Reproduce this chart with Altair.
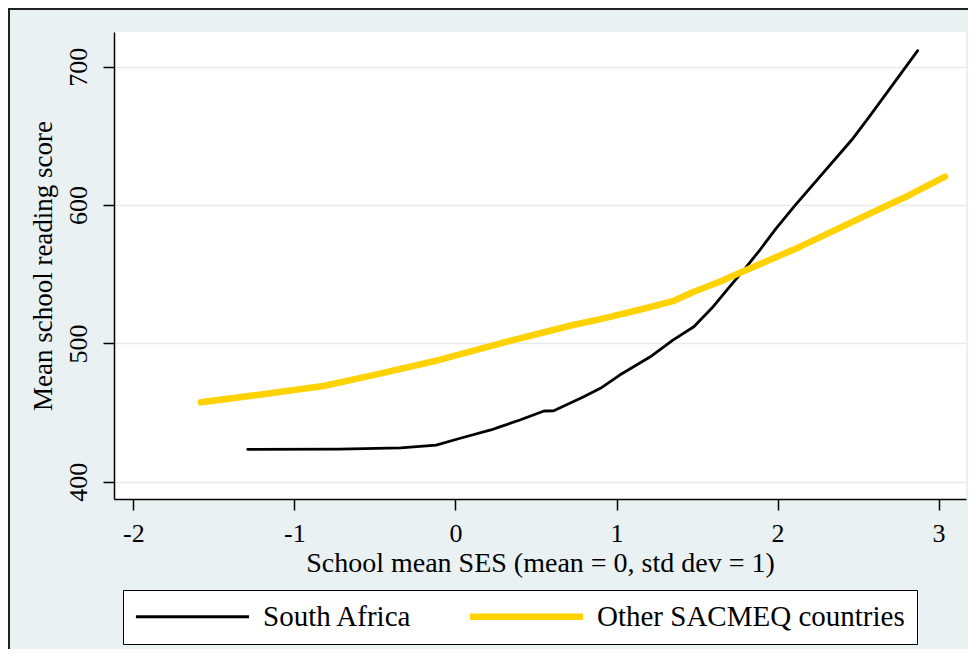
import altair as alt
import pandas as pd

# ---- data ----
series_names = ["South Africa", "Other SACMEQ countries"]

sa_ses = [-1.29, -0.72, -0.34, -0.12, 0.03, 0.22, 0.28, 0.40, 0.55, 0.61, 0.79, 0.90,
          1.02, 1.21, 1.35, 1.48, 1.60, 1.72, 1.79, 1.89, 1.99, 2.11, 2.46, 2.57, 2.87]
sa_score = [423.4, 423.6, 424.4, 426.5, 431.4, 437.4, 439.8, 444.6, 451.1, 451.3, 461.0, 467.5,
            477.1, 490.3, 502.4, 512.0, 526.5, 543.4, 553.0, 567.5, 583.0, 600.0, 647.0, 663.9, 711.6]

oth_ses = [-1.58, -1.23, -0.82, -0.51, -0.10, 0.32, 0.73, 0.90, 1.15, 1.35, 1.48, 1.64,
           1.77, 2.14, 2.51, 2.82, 3.04]
oth_score = [457.4, 462.7, 469.2, 477.1, 488.0, 501.2, 513.3, 517.5, 524.5, 530.5, 537.3, 544.6,
             551.2, 569.9, 590.4, 607.3, 620.5]

x_ticks = [-2, -1, 0, 1, 2, 3]
y_ticks = [400, 500, 600, 700]

df = pd.concat([
    pd.DataFrame({"ses": sa_ses, "score": sa_score, "series": series_names[0], "order": range(len(sa_ses))}),
    pd.DataFrame({"ses": oth_ses, "score": oth_score, "series": series_names[1], "order": range(len(oth_ses))}),
])

FONT = "Liberation Serif"
BG = "#E9F1F3"

lines = alt.Chart(df).mark_line(strokeCap="round", strokeJoin="round").encode(
    x=alt.X("ses:Q",
            scale=alt.Scale(domain=[-2.12, 3.17], nice=False, zero=False),
            axis=alt.Axis(values=x_ticks, title="School mean SES (mean = 0, std dev = 1)",
                          grid=False, labelPadding=10, titlePadding=3,
                          labelExpr="'' + datum.value")),
    y=alt.Y("score:Q",
            scale=alt.Scale(domain=[387.5, 725.1], nice=False, zero=False),
            axis=alt.Axis(values=y_ticks, title="Mean school reading score", grid=True,
                          labelAngle=270, labelAlign="center", labelBaseline="bottom",
                          labelPadding=12, titlePadding=8, labelExpr="'' + datum.value")),
    color=alt.Color("series:N",
                    scale=alt.Scale(domain=series_names, range=["#000000", "#FFD200"]),
                    legend=alt.Legend(title=None)),
    strokeWidth=alt.StrokeWidth("series:N",
                                scale=alt.Scale(domain=series_names, range=[2.8, 6.5]),
                                legend=alt.Legend(title=None)),
    order="order:Q",
)

frame_top = alt.Chart(df).mark_rule(color="#222222", strokeWidth=1.5).encode(
    y=alt.value(-23), x=alt.value(-106), x2=alt.value(860))
frame_left = alt.Chart(df).mark_rule(color="#222222", strokeWidth=1.5).encode(
    x=alt.value(-105), y=alt.value(-24), y2=alt.value(620))

chart = alt.layer(frame_top, frame_left, lines).properties(
    width=852, height=467,
    autosize=alt.AutoSizeParams(type="none"),
    padding={"left": 106, "top": 24, "right": 2, "bottom": 150},
    background=BG,
).configure_view(
    fill="white", stroke=None
).configure_axis(
    labelFont=FONT, titleFont=FONT, labelFontSize=26, titleFontWeight="normal",
    labelColor="black", titleColor="black",
    domainColor="black", domainWidth=1.5, tickColor="black", tickWidth=1.5, tickSize=11,
    gridColor="#E2ECF0", gridWidth=1.5,
).configure_axisX(
    titleFontSize=28
).configure_axisY(
    titleFontSize=27
).configure_legend(
    orient="none", legendX=9, legendY=558, direction="horizontal",
    strokeColor="black", fillColor="white", padding=12,
    symbolType="M-2.4,0H17.6", symbolSize=128, labelOffset=99,
    labelFont=FONT, labelFontSize=29, labelColor="black", labelLimit=600,
    columnPadding=44,
)

chart.save("out.html", embed_options={"renderer": "svg", "actions": False})
